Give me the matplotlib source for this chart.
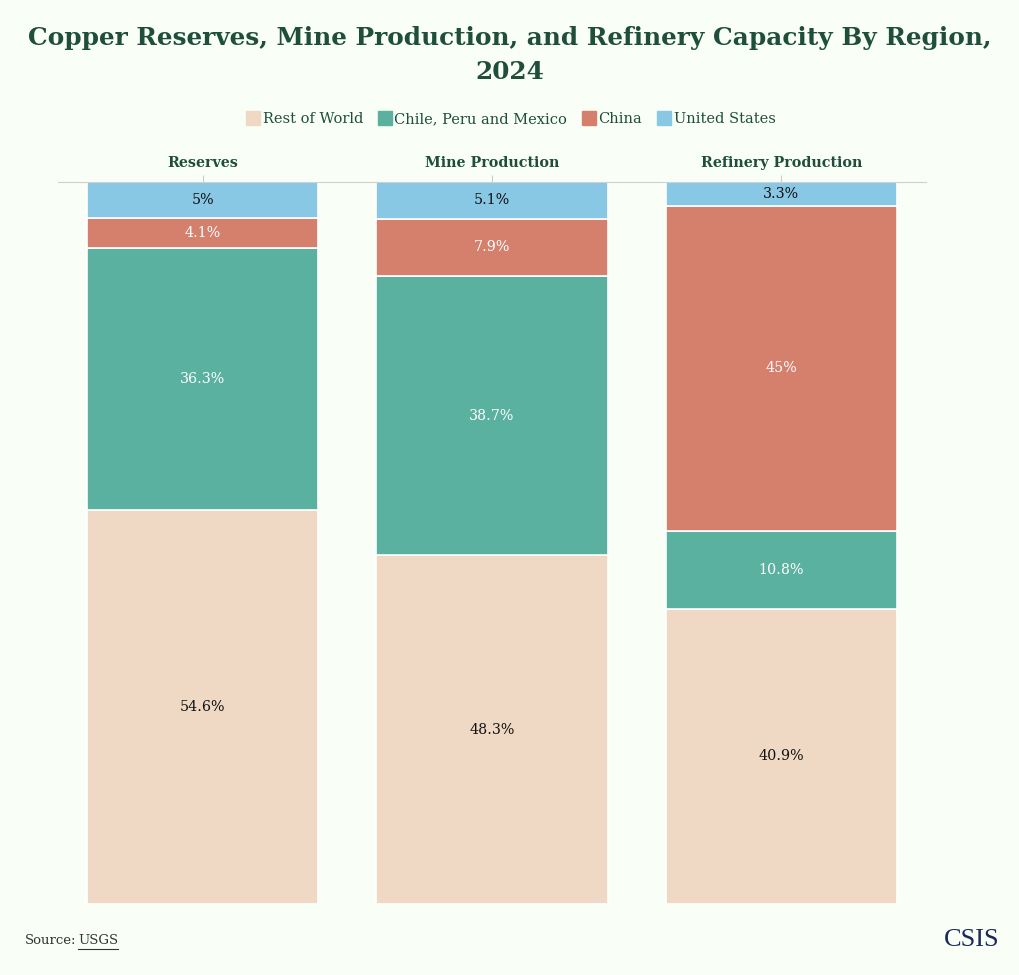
import numpy as np
import matplotlib.pyplot as plt
from matplotlib.lines import Line2D

# data
categories = ["Reserves", "Mine Production", "Refinery Production"]
series_names = ["Rest of World", "Chile, Peru and Mexico", "China", "United States"]
rest_of_world = [54.6, 48.3, 40.9]
chile_peru_mexico = [36.3, 38.7, 10.8]
china = [4.1, 7.9, 45.0]
united_states = [5.0, 5.1, 3.3]

colors = ["#EFD9C5", "#5BB19F", "#D4806D", "#88C8E5"]
text_colors = ["#111111", "white", "white", "#111111"]
bg = "#F9FFF6"
dark_green = "#1F4E3D"

plt.rcParams['font.family'] = ['DejaVu Serif']

fig = plt.figure(figsize=(10.2, 9.75), dpi=100, facecolor=bg)
ax = fig.add_axes([58/1020, 1 - 904/975, 868/1020, (904 - 182)/975])
ax.set_facecolor(bg)

x = np.arange(len(categories))
bottom = np.zeros(len(categories))
for vals, col, tc in zip([rest_of_world, chile_peru_mexico, china, united_states], colors, text_colors):
    vals = np.array(vals)
    ax.bar(x, vals, width=0.8, bottom=bottom, color=col, edgecolor="white", linewidth=1.2)
    for xi, b, v in zip(x, bottom, vals):
        lab = f"{v:g}%"
        ax.text(xi, b + v / 2, lab, ha="center", va="center", color=tc, fontsize=10.3)
    bottom += vals

ax.set_xlim(-0.5, 2.5)
ax.set_ylim(0, 100)
ax.set_yticks([])
ax.xaxis.tick_top()
ax.set_xticks(x)
ax.set_xticklabels(categories, fontsize=10.3, fontweight="bold", color=dark_green)
ax.tick_params(axis="x", length=5, color="#cccccc", pad=3.5)
for s in ["left", "right", "bottom"]:
    ax.spines[s].set_visible(False)
ax.spines["top"].set_color("#d0d0d0")
ax.spines["top"].set_linewidth(0.8)

fig.text(0.5, 1 - 38/975, "Copper Reserves, Mine Production, and Refinery Capacity By Region,",
         ha="center", va="center", fontsize=17.8, fontweight="bold", color=dark_green)
fig.text(0.5, 1 - 72/975, "2024", ha="center", va="center", fontsize=17.8,
         fontweight="bold", color=dark_green)

handles = [Line2D([0], [0], marker="s", linestyle="", markersize=9.5,
                  markerfacecolor=c, markeredgecolor=c) for c in colors]
fig.legend(handles, series_names, loc="center", bbox_to_anchor=(0.5, 1 - 119/975),
           ncol=4, frameon=False, fontsize=10.5, handletextpad=0.05,
           handlelength=1.2, columnspacing=0.9, labelcolor=dark_green)

src = fig.text(25/1020, 1 - 941/975, "Source:", ha="left", va="center", fontsize=9.5, color="#333333")
usgs = fig.text(78/1020, 1 - 941/975, "USGS", ha="left", va="center", fontsize=9.5,
                color="#333333")
fig.canvas.draw()
bb = usgs.get_window_extent()
fig.add_artist(Line2D([bb.x0 / 1020, bb.x1 / 1020], [(bb.y0 - 1) / 975, (bb.y0 - 1) / 975],
                      color="#333333", lw=0.8))
fig.text(1000/1020, 1 - 940/975, "CSIS", ha="right", va="center", fontsize=19,
         color="#1B2A5A", family="Liberation Serif")

fig.savefig("out.png", dpi=100, facecolor=bg)
